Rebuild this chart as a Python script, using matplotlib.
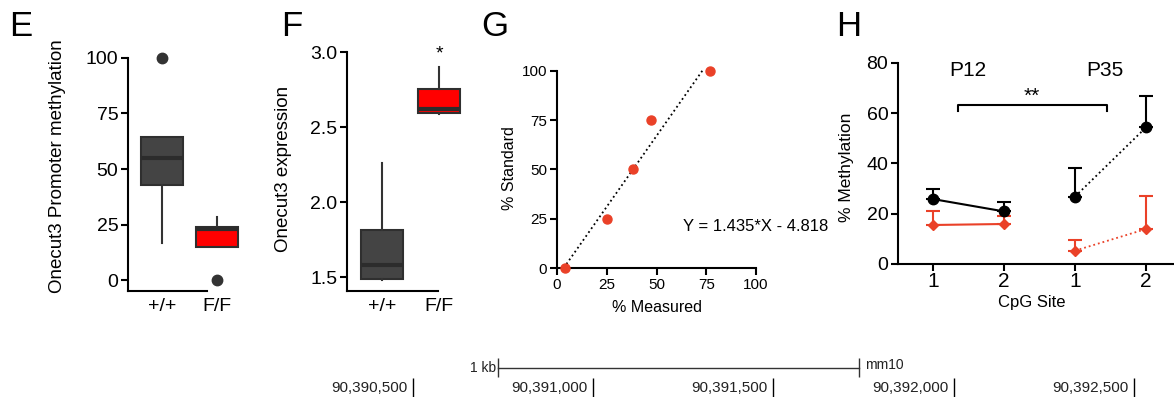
import matplotlib
matplotlib.use('Agg')
import matplotlib.pyplot as plt

plt.rcParams['font.family'] = ['Liberation Sans', 'DejaVu Sans']

W, H = 1174, 397

# E: Onecut3 promoter methylation (box stats)
groups = ['+/+', 'F/F']
e_q1 = [43, 15]
e_med = [55, 23]
e_q3 = [64.5, 24]
e_lo = [16.5, 15]
e_hi = [64.5, 28.5]
e_fliers = [[100], [0]]

# F: Onecut3 expression
f_q1 = [1.49, 2.592]
f_med = [1.578, 2.619]
f_q3 = [1.816, 2.752]
f_lo = [1.478, 2.585]
f_hi = [2.258, 2.897]
f_fliers = [[], []]

# G: standard curve
measured = [4, 25, 38, 47, 77]
standard = [0, 25, 50, 75, 100]
slope, intercept = 1.435, -4.818

# H: methylation per CpG site (P12 sites 1-2, P35 sites 1-2)
cpg_labels = ['1', '2', '1', '2']
wt_mean = [25.8, 20.9, 26.8, 54.3]
wt_err = [4.2, 3.8, 11.5, 12.5]
ko_mean = [15.5, 15.9, 5.3, 13.9]
ko_err = [5.7, 3.0, 4.2, 13.2]

# genome track
coords = [90390500, 90391000, 90391500, 90392000, 90392500]
scale_start = 90390736
scale_len = 1000

box_colors = ['#444444', '#ff0000']
red = '#ea4128'


def px_axes(fig, l, t, r, b):
    return fig.add_axes([l / W, 1 - b / H, (r - l) / W, (b - t) / H])


def px_text(fig, x, y, s, **kw):
    fig.text(x / W, 1 - y / H, s, **kw)


def style(ax, size=14):
    for s in ['top', 'right']:
        ax.spines[s].set_visible(False)
    for s in ['left', 'bottom']:
        ax.spines[s].set_linewidth(1.5)
    ax.tick_params(width=1.5, length=5, labelsize=size, pad=2)


def draw_boxes(ax, q1, med, q3, lo, hi, fliers):
    stats = []
    for i in range(len(q1)):
        stats.append(dict(q1=q1[i], med=med[i], q3=q3[i], whislo=lo[i],
                          whishi=hi[i], fliers=fliers[i]))
    bp = ax.bxp(stats, positions=[1, 2], widths=0.75, patch_artist=True,
                showcaps=False,
                boxprops=dict(edgecolor='#2f2f2f', linewidth=1.5),
                medianprops=dict(color='#2c2c2c', linewidth=3),
                whiskerprops=dict(color='#333333', linewidth=1.5),
                flierprops=dict(marker='o', markerfacecolor='#333333',
                                markeredgecolor='#333333', markersize=7.5))
    for patch, c in zip(bp['boxes'], box_colors):
        patch.set_facecolor(c)
    ax.set_xticks([1, 2])
    ax.set_xticklabels(groups)
    ax.tick_params(axis='x', length=0, pad=5)


fig = plt.figure(figsize=(W / 100, H / 100), dpi=100)

# ---- E ----
axE = px_axes(fig, 128, 50, 240, 291)
style(axE)
draw_boxes(axE, e_q1, e_med, e_q3, e_lo, e_hi, e_fliers)
axE.set_xlim(0.382, 2.418)
axE.set_ylim(-4.95, 103.6)
axE.set_yticks([0, 25, 50, 75, 100])
axE.spines['left'].set_bounds(-4.95, 100)
axE.spines['bottom'].set_bounds(0.382, 1.818)
px_text(fig, 58, 166, 'Onecut3 Promoter methylation', rotation=90,
        ha='center', va='center', fontsize=13.5)
px_text(fig, 9, 26, 'E', fontsize=25, va='center')

# ---- F ----
axF = px_axes(fig, 347, 45, 470, 291)
style(axF)
draw_boxes(axF, f_q1, f_med, f_q3, f_lo, f_hi, f_fliers)
axF.set_xlim(0.386, 2.544)
axF.set_ylim(1.4067, 3.0467)
axF.set_yticks([1.5, 2.0, 2.5, 3.0])
axF.set_yticklabels(['1.5', '2.0', '2.5', '3.0'])
axF.spines['left'].set_bounds(1.4067, 3.0)
axF.spines['bottom'].set_bounds(0.386, 1.98)
axF.text(2, 2.985, '*', ha='center', va='center', fontsize=14)
px_text(fig, 283, 169, 'Onecut3 expression', rotation=90,
        ha='center', va='center', fontsize=13.5)
px_text(fig, 281, 26, 'F', fontsize=25, va='center')

# ---- G ----
axG = px_axes(fig, 557, 70.7, 756, 268)
style(axG, size=11)
axG.set_xlim(0, 100)
axG.set_ylim(0, 100)
axG.set_xticks([0, 25, 50, 75, 100])
axG.set_yticks([0, 25, 50, 75, 100])
x0 = -intercept / slope
x1 = (100 - intercept) / slope
axG.plot([x0, x1], [0, 100], ls=':', color='black', lw=1.3, clip_on=False)
axG.plot(measured, standard, 'o', color=red, ms=6.5, clip_on=False, zorder=3)
axG.text(63.3, 20.8, 'Y = 1.435*X - 4.818', ha='left', va='center',
         fontsize=12)
px_text(fig, 510, 168, '% Standard', rotation=90, ha='center', va='center',
        fontsize=11.5)
px_text(fig, 657, 307, '% Measured', ha='center', va='center', fontsize=11.5)
px_text(fig, 481, 26, 'G', fontsize=25, va='center')

# ---- H ----
axH = px_axes(fig, 898, 62.7, 1174, 264)
style(axH)
xpos = list(range(1, len(cpg_labels) + 1))
axH.set_xlim(0.507, 4.394)
axH.set_ylim(0, 80)
axH.set_yticks([0, 20, 40, 60, 80])
axH.set_xticks(xpos)
axH.set_xticklabels(cpg_labels)
axH.tick_params(axis='x', labelsize=15, pad=1)

axH.errorbar(xpos, wt_mean, yerr=[[0] * 4, wt_err], fmt='none',
             ecolor='black', elinewidth=1.5, capsize=5, capthick=1.5,
             clip_on=False)
axH.errorbar(xpos, ko_mean, yerr=[[0] * 4, ko_err], fmt='none',
             ecolor=red, elinewidth=1.5, capsize=5, capthick=1.5,
             clip_on=False)
axH.plot(xpos[:2], wt_mean[:2], '-o', color='black', lw=1.5, ms=7.5,
         clip_on=False, zorder=3)
axH.plot(xpos[2:], wt_mean[2:], ':o', color='black', lw=1.3, ms=7.5,
         clip_on=False, zorder=3)
axH.plot(xpos[:2], ko_mean[:2], '-D', color=red, lw=1.5, ms=5.5,
         clip_on=False, zorder=3)
axH.plot(xpos[2:], ko_mean[2:], ':D', color=red, lw=1.3, ms=5.5,
         clip_on=False, zorder=3)

axH.plot([1.352, 1.352, 3.45, 3.45], [60.8, 63.2, 63.2, 60.8],
         color='black', lw=1.5)
axH.text(2.39, 66.5, '**', ha='center', va='center', fontsize=15)
axH.text(1.49, 77, 'P12', ha='center', va='center', fontsize=15)
axH.text(3.42, 77, 'P35', ha='center', va='center', fontsize=15)
px_text(fig, 847, 167, '% Methylation', rotation=90, ha='center',
        va='center', fontsize=12.5)
px_text(fig, 1032, 302, 'CpG Site', ha='center', va='center', fontsize=12)
px_text(fig, 836, 26, 'H', fontsize=25, va='center')

# ---- genome track ----
axT = px_axes(fig, 300, 355, 1174, 397)
axT.set_xlim(90390186.5, 90392611)
axT.set_ylim(0, 1)
axT.axis('off')
axT.vlines(coords, 0, 0.45, color='black', lw=1)
for c in coords:
    axT.annotate(f'{c:,}', (c, 0.214), xytext=(-4, 0),
                 textcoords='offset points', ha='right', va='center',
                 fontsize=11, color='#222222')
scale_end = scale_start + scale_len
axT.plot([scale_start, scale_end], [0.69, 0.69], color='#333333', lw=1)
axT.vlines([scale_start, scale_end], 0.476, 0.93, color='#333333', lw=1)
axT.annotate('1 kb', (scale_start, 0.69), xytext=(-1.5, 0),
             textcoords='offset points', ha='right', va='center',
             fontsize=10, color='#222222')
axT.annotate('mm10', (scale_end, 0.76), xytext=(5, 0),
             textcoords='offset points', ha='left', va='center',
             fontsize=10, color='#222222')

fig.savefig('out.png', dpi=100)
